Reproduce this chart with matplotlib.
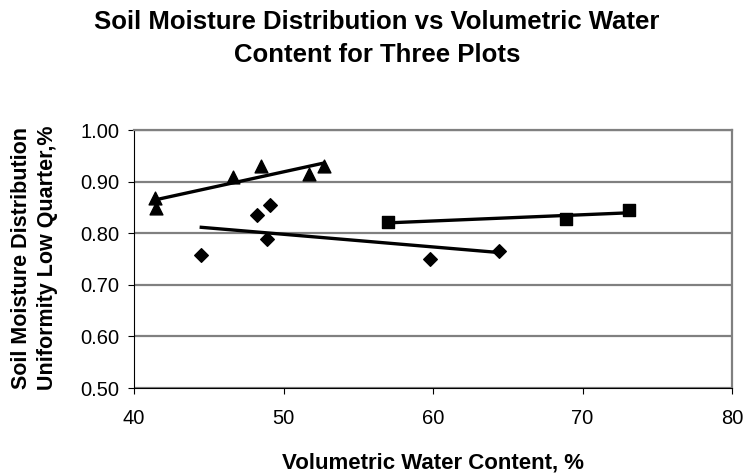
import numpy as np
import matplotlib.pyplot as plt

plt.rcParams['font.family'] = ['Liberation Sans', 'DejaVu Sans']

# plot data (volumetric water content %, distribution uniformity)
tri_x = [41.4, 41.5, 46.6, 48.5, 51.7, 52.7]
tri_y = [0.869, 0.848, 0.908, 0.931, 0.915, 0.931]

dia_x = [44.5, 48.2, 49.1, 48.9, 59.8, 64.4]
dia_y = [0.758, 0.835, 0.854, 0.789, 0.750, 0.765]

sq_x = [57.0, 68.9, 73.1]
sq_y = [0.822, 0.827, 0.845]

W, H = 747, 474
fig = plt.figure(figsize=(W / 100, H / 100), dpi=100)
ax = fig.add_axes([134 / W, 1 - 388 / H, (732 - 134) / W, (388 - 130) / H])

for xs, ys, m, s in [(tri_x, tri_y, '^', 85), (dia_x, dia_y, 'D', 48), (sq_x, sq_y, 's', 70)]:
    ax.scatter(xs, ys, marker=m, s=s, color='black', zorder=3)
    # linear trendline over the range of the data
    k, b = np.polyfit(xs, ys, 1)
    xl = np.array([min(xs), max(xs)])
    ax.plot(xl, k * xl + b, color='black', lw=2.4, zorder=2)

ax.set_xlim(40, 80)
ax.set_ylim(0.5, 1.0)
ax.set_xticks([40, 50, 60, 70, 80])
yt = np.arange(0.5, 1.01, 0.1)
ax.set_yticks(yt)
ax.set_yticklabels(['%.2f' % v for v in yt])
ax.yaxis.grid(True, color='#808080', lw=1.6)
ax.set_axisbelow(True)
ax.tick_params(labelsize=14.5, direction='out', length=4.3, color='black')
ax.tick_params(axis='y', pad=6)
ax.tick_params(axis='x', pad=11)

for side in ['top', 'right']:
    ax.spines[side].set_color('#808080')
    ax.spines[side].set_linewidth(1.6)
for side in ['left', 'bottom']:
    ax.spines[side].set_color('black')

# axis titles placed like the original chart
fig.text(433 / W, 1 - 469 / H, 'Volumetric Water Content, %', fontsize=16,
         fontweight='bold', ha='center', va='baseline')
fig.text(34.5 / W, 1 - 258 / H, 'Soil Moisture Distribution\nUniformity Low Quarter,%',
         fontsize=15.5, fontweight='bold', rotation=90, ha='center', va='center',
         linespacing=1.35)

title = ['Soil Moisture Distribution vs Volumetric Water', 'Content for Three Plots']
for line, base in zip(title, [29, 62]):
    fig.text(377 / W, 1 - base / H, line, fontsize=18.5, fontweight='bold',
             ha='center', va='baseline')

plt.savefig('out.png')
